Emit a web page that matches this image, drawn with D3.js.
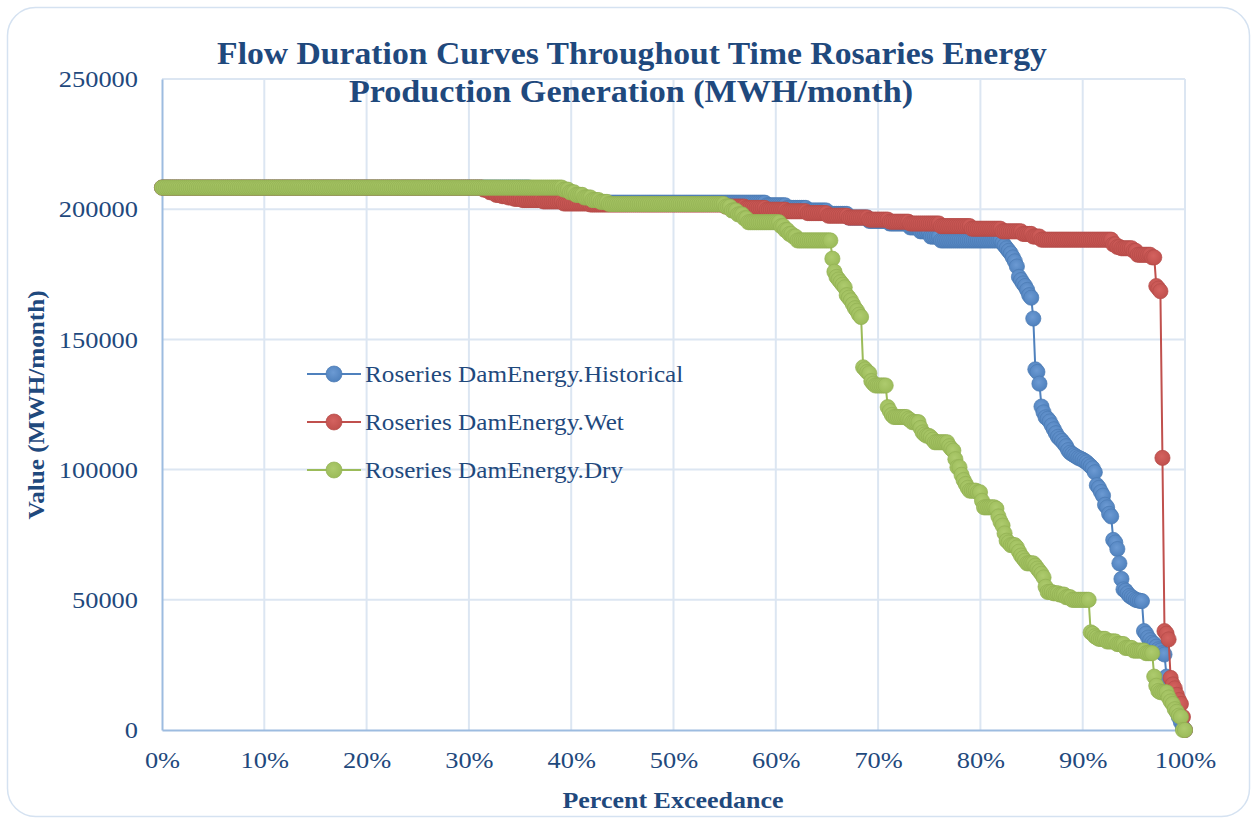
<!DOCTYPE html>
<html>
<head>
<meta charset="utf-8">
<script src="https://cdn.jsdelivr.net/npm/d3@7"></script>
<style>
  html, body { margin: 0; padding: 0; background: #ffffff; }
  svg { display: block; font-family: "Liberation Serif", "DejaVu Serif", serif; }
</style>
</head>
<body>
<svg id="chart" width="1257" height="821"></svg>
<script>
// Axis ticks
const percentTicks = [0, 10, 20, 30, 40, 50, 60, 70, 80, 90, 100];
const valueTicks = [0, 50000, 100000, 150000, 200000, 250000];

// Monthly energy (MWH/month) sorted from highest to lowest,
// written as [value, number of months at that value].
const historicalRuns = [
  [208300, 180], [207000, 5], [205500, 5], [204500, 5], [204000, 5], [203500, 10],
  [202500, 85], [201500, 10], [200500, 10], [199500, 10], [198200, 10], [196800, 10],
  [195500, 10], [194500, 10], [193000, 5], [191500, 5], [189500, 5], [188000, 30],
  [187000, 1], [186000, 1], [185000, 1], [184000, 1], [183000, 1], [181500, 1],
  [180000, 1], [178000, 1], [174000, 1], [172800, 1], [171500, 1], [170500, 1],
  [169000, 1], [167000, 1], [166000, 1], [158000, 1], [138500, 1], [137500, 1],
  [133000, 1], [124200, 1], [122000, 1], [120100, 1], [119500, 1], [118500, 1],
  [117000, 1], [115500, 1], [114000, 1], [112600, 1], [111800, 1], [111000, 1],
  [110000, 1], [109000, 1], [107500, 1], [106500, 1], [106000, 1], [105500, 1],
  [105000, 1], [104500, 1], [104200, 1], [103800, 1], [103300, 1], [102800, 1],
  [102000, 1], [101300, 1], [100500, 1], [99000, 1], [94000, 1], [93000, 1],
  [91400, 1], [90000, 1], [86500, 1], [85500, 1], [83000, 1], [82000, 1],
  [73000, 1], [72000, 1], [69500, 1], [64000, 1], [58000, 1], [54000, 1],
  [53500, 1], [52500, 1], [51500, 1], [51000, 1], [50500, 1], [50000, 1],
  [49800, 1], [49600, 1], [49500, 1], [38000, 1], [37000, 1], [35500, 1],
  [34500, 1], [33500, 1], [33000, 1], [32000, 1], [31000, 1], [30500, 1],
  [29500, 1], [29000, 1], [20500, 1], [16000, 1], [13000, 1], [11000, 1],
  [9000, 1], [7000, 1], [5000, 1], [3000, 1], [1000, 1], [0, 1]
];

const wetRuns = [
  [208300, 157], [207500, 3], [206500, 3], [205500, 3], [205000, 3], [204500, 3],
  [204000, 4], [203500, 10], [203000, 10], [202200, 13], [201800, 66], [201000, 10],
  [200500, 10], [199800, 10], [199200, 10], [198500, 10], [197500, 10], [196800, 10],
  [196000, 10], [195200, 10], [194500, 15], [193500, 15], [192500, 15], [191500, 10],
  [190500, 5], [189500, 4], [188300, 35], [186500, 2], [185500, 2], [185000, 6],
  [184000, 2], [182500, 7], [181500, 2], [170500, 1], [169500, 1], [168500, 1],
  [104500, 1], [38000, 1], [37000, 1], [34800, 1], [20000, 1], [17500, 1],
  [16000, 1], [13500, 1], [11500, 1], [10000, 1], [5000, 1], [0, 1]
];

const dryRuns = [
  [208300, 196], [207500, 3], [206500, 3], [205500, 4], [204500, 4], [203500, 4],
  [202800, 4], [202000, 57], [201000, 3], [199500, 3], [198000, 3], [196500, 2],
  [195000, 16], [193500, 2], [192000, 2], [190500, 2], [189500, 2], [188000, 17],
  [181000, 1], [176000, 1], [174000, 1], [173000, 1], [172000, 1], [171000, 1],
  [170000, 1], [167000, 1], [166000, 1], [165000, 1], [163500, 1], [162000, 1],
  [161000, 1], [159500, 1], [158600, 1], [139300, 1], [138500, 1], [137500, 1],
  [137000, 1], [134000, 1], [133000, 1], [132300, 6], [124000, 1], [122500, 1],
  [121000, 1], [120200, 7], [119500, 1], [119000, 1], [118200, 4], [116000, 1],
  [114300, 1], [113500, 1], [113000, 2], [112400, 1], [111500, 1], [110500, 7],
  [109000, 1], [108000, 1], [107300, 1], [104000, 1], [100900, 2], [98000, 1],
  [96000, 1], [94500, 1], [93000, 1], [91900, 4], [91300, 2], [88000, 1],
  [85500, 6], [85000, 1], [82000, 1], [80000, 1], [78500, 1], [75500, 1],
  [72700, 1], [72000, 1], [71000, 3], [70100, 1], [68500, 1], [67000, 1],
  [66000, 1], [65000, 1], [64000, 4], [63100, 1], [62000, 1], [61000, 1],
  [60000, 1], [58600, 1], [55000, 1], [53000, 3], [52500, 3], [52000, 3],
  [51000, 3], [50000, 9], [37500, 1], [37000, 1], [36000, 1], [35500, 1],
  [35000, 4], [34000, 5], [33000, 4], [31500, 4], [30500, 6], [29500, 4],
  [20500, 1], [17000, 1], [15000, 1], [14500, 4], [12500, 1], [11000, 1],
  [10000, 1], [8000, 1], [7000, 1], [5500, 1], [5000, 1], [0, 2]
];

const seriesNames = [
  "Roseries DamEnergy.Historical",
  "Roseries DamEnergy.Wet",
  "Roseries DamEnergy.Dry"
];
const seriesRuns = [historicalRuns, wetRuns, dryRuns];

// Styling
const seriesFill = ["#4F81BD", "#C0504D", "#9BBB59"];
const seriesLight = ["#6C9AD3", "#D4625F", "#AECB6E"];
const seriesEdge = ["#4A7AB3", "#B54B48", "#92B053"];
const textColor = "#1F497D";
const gridColor = "#DCE6F2";
const axisColor = "#9DBCE0";

const W = 1257, H = 821;
const plot = { left: 162, right: 1185, top: 79, bottom: 730 };
const markerR = 7.6;

const svg = d3.select("#chart");
const defs = svg.append("defs");
seriesFill.forEach((c, s) => {
  const gr = defs.append("radialGradient")
    .attr("id", "mk" + s).attr("cx", "45%").attr("cy", "40%").attr("r", "60%");
  gr.append("stop").attr("offset", "0%").attr("stop-color", seriesLight[s]);
  gr.append("stop").attr("offset", "100%").attr("stop-color", c);
});

// Widen serif text horizontally to the proportions of the chart's typeface
function widen(sel, factor) {
  sel.each(function () {
    const len = this.getComputedTextLength();
    d3.select(this).attr("textLength", len * factor).attr("lengthAdjust", "spacingAndGlyphs");
  });
}

// Rounded chart frame
svg.append("rect")
  .attr("x", 7.5).attr("y", 7.5)
  .attr("width", W - 15).attr("height", H - 12)
  .attr("rx", 28).attr("ry", 28)
  .attr("fill", "#ffffff")
  .attr("stroke", "#D5E2F1").attr("stroke-width", 1.5);

const x = d3.scaleLinear().domain([0, 100]).range([plot.left, plot.right]);
const y = d3.scaleLinear().domain([0, 250000]).range([plot.bottom, plot.top]);

// Gridlines
const grid = svg.append("g");
grid.selectAll("line.v").data(percentTicks.slice(1)).join("line")
  .attr("x1", d => x(d)).attr("x2", d => x(d))
  .attr("y1", plot.top).attr("y2", plot.bottom)
  .attr("stroke", gridColor).attr("stroke-width", 2);
grid.selectAll("line.h").data(valueTicks.slice(1)).join("line")
  .attr("x1", plot.left).attr("x2", plot.right)
  .attr("y1", d => y(d)).attr("y2", d => y(d))
  .attr("stroke", gridColor).attr("stroke-width", 2);

// Axes
const yAxis = svg.append("g")
  .attr("transform", `translate(${plot.left},0)`)
  .call(d3.axisLeft(y).tickValues(valueTicks).tickFormat(d3.format("d")).tickSize(0).tickPadding(24));
const xAxis = svg.append("g")
  .attr("transform", `translate(0,${plot.bottom})`)
  .call(d3.axisBottom(x).tickValues(percentTicks).tickFormat(d => d + "%").tickSize(0).tickPadding(21));
[yAxis, xAxis].forEach(g => {
  g.select(".domain").attr("stroke", axisColor).attr("stroke-width", 2);
  g.selectAll("text")
    .attr("fill", textColor)
    .style("font-family", '"Liberation Serif", serif')
    .style("font-size", "24px");
  widen(g.selectAll("text"), 1.1);
});

// Expand the runs into individual sorted months and place them by exceedance
function expand(runs) {
  const vals = [];
  runs.forEach(([v, c]) => { for (let k = 0; k < c; k++) vals.push(v); });
  const n = vals.length;
  return vals.map((v, i) => ({ p: i / (n - 1) * 100, v }));
}

const line = d3.line().x(d => x(d.p)).y(d => y(d.v));

seriesRuns.forEach((runs, s) => {
  const pts = expand(runs);
  const g = svg.append("g");
  g.append("path")
    .datum(pts)
    .attr("d", line)
    .attr("fill", "none")
    .attr("stroke", seriesFill[s])
    .attr("stroke-width", 2);
  g.selectAll("circle").data(pts).join("circle")
    .attr("cx", d => x(d.p)).attr("cy", d => y(d.v))
    .attr("r", markerR)
    .attr("fill", `url(#mk${s})`)
    .attr("stroke", seriesEdge[s])
    .attr("stroke-width", 0.7);
});

// Legend
const legend = svg.append("g");
const legendRows = [374, 422, 470];
seriesNames.forEach((name, s) => {
  const ly = legendRows[s];
  legend.append("line")
    .attr("x1", 307).attr("x2", 361).attr("y1", ly).attr("y2", ly)
    .attr("stroke", seriesFill[s]).attr("stroke-width", 2);
  legend.append("circle")
    .attr("cx", 334).attr("cy", ly).attr("r", 8)
    .attr("fill", `url(#mk${s})`).attr("stroke", seriesEdge[s]).attr("stroke-width", 0.7);
  const t = legend.append("text")
    .attr("x", 365).attr("y", ly).attr("dy", "0.35em")
    .attr("fill", textColor)
    .style("font-size", "23px")
    .text(name);
  widen(t, 1.095);
});

// Title
const title = svg.append("g").attr("fill", textColor).style("font-weight", "bold").style("font-size", "32px");
const t1 = title.append("text").attr("x", 632).attr("y", 64).attr("text-anchor", "middle")
  .text("Flow Duration Curves Throughout Time Rosaries Energy");
const t2 = title.append("text").attr("x", 631).attr("y", 102).attr("text-anchor", "middle")
  .text("Production Generation (MWH/month)");
widen(t1, 1.052);
widen(t2, 1.066);

// Axis titles
const xt = svg.append("text")
  .attr("x", 673).attr("y", 808).attr("text-anchor", "middle")
  .attr("fill", textColor).style("font-weight", "bold").style("font-size", "23px")
  .text("Percent Exceedance");
widen(xt, 1.13);
const yt = svg.append("text")
  .attr("transform", "translate(44,405) rotate(-90)")
  .attr("text-anchor", "middle")
  .attr("fill", textColor).style("font-weight", "bold").style("font-size", "23px")
  .text("Value (MWH/month)");
widen(yt, 1.095);
</script>
</body>
</html>
